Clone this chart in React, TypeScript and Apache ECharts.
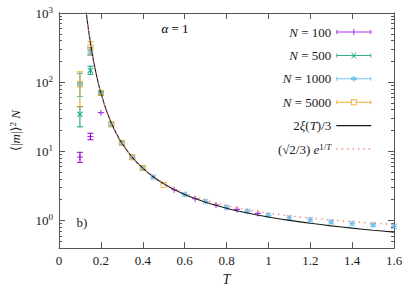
import React, { useEffect, useRef } from 'react';
import * as echarts from 'echarts';

const FONT = "'Liberation Serif', 'DejaVu Serif', serif";
const TXT = '#1a1a1a';
const AXIS = '#555555';

// x ticks
const X_MIN = 0;
const X_MAX = 1.6;
const X_STEP = 0.2;
// y ticks
const Y_MIN = 0.4;
const Y_MAX = 1000;
const Y_MAJOR = [1, 10, 100, 1000];
const Y_MINOR = [
  0.4, 0.5, 0.6, 0.7, 0.8, 0.9,
  2, 3, 4, 5, 6, 7, 8, 9,
  20, 30, 40, 50, 60, 70, 80, 90,
  200, 300, 400, 500, 600, 700, 800, 900,
];

// curves
const T_CURVE = [0.125, 0.13, 0.135, 0.14, 0.15, 0.16, 0.17, 0.18, 0.19, 0.2, 0.225, 0.25, 0.275, 0.3, 0.35, 0.4, 0.45, 0.5, 0.55, 0.6, 0.65, 0.7, 0.75, 0.8, 0.9, 1.0, 1.1, 1.2, 1.3, 1.4, 1.5, 1.6];
const XI_CURVE = [1405, 1033, 777, 596, 370.5, 244, 169, 121.9, 91.0, 70.0, 40.2, 25.7, 17.9, 13.2, 8.21, 5.74, 4.30, 3.41, 2.81, 2.39, 2.08, 1.845, 1.66, 1.51, 1.287, 1.127, 1.007, 0.915, 0.839, 0.777, 0.725, 0.681];
const EXP_CURVE = [1405, 1033, 777, 596, 370.5, 244, 169, 121.9, 91.0, 70.0, 40.2, 25.7, 17.9, 13.2, 8.21, 5.74, 4.35, 3.48, 2.90, 2.50, 2.195, 1.967, 1.788, 1.645, 1.432, 1.281, 1.170, 1.085, 1.017, 0.963, 0.918, 0.881];

// data points [T, value]
const N100 = [[0.1, 8.3], [0.15, 16.4], [0.2, 36.3], [0.55, 2.79], [0.65, 2.07], [0.75, 1.68], [0.85, 1.45], [0.95, 1.27]];
const N100_ERR = [[0.1, 6.95, 9.7], [0.15, 14.7, 18.3]];
const N500 = [[0.1, 34.3], [0.15, 148], [0.2, 70]];
const N500_ERR = [[0.1, 22.6, 44.3], [0.15, 130, 170]];
const N1000 = [[0.1, 95], [0.15, 278], [0.2, 70], [0.25, 24.7], [0.3, 13.2], [0.35, 8.2], [0.4, 5.74], [0.45, 4.24], [0.6, 2.39], [0.7, 1.89], [0.8, 1.55], [0.9, 1.36], [1.0, 1.19], [1.1, 1.10], [1.2, 1.03], [1.3, 0.957], [1.4, 0.906], [1.5, 0.867], [1.6, 0.82]];
const N1000_ERR = [[0.1, 62, 133], [0.15, 245, 315]];
const N5000 = [[0.1, 92.5], [0.15, 318], [0.2, 70], [0.25, 24.7], [0.3, 13.2], [0.35, 8.2], [0.4, 5.74], [0.5, 3.29]];
const N5000_ERR = [[0.1, 44.3, 140.8], [0.15, 250, 385]];

const C100 = '#9400d3';
const C500 = '#009e73';
const C1000 = '#56b4e9';
const C5000 = '#e69f00';
const CEXP = '#f3857c';

const SYM_PLUS = 'path://M-3,-0.55H3V0.55H-3Z M-0.55,-3H0.55V3H-0.55Z';
const SYM_CROSS = 'path://M-3,-2.2L-2.2,-3L3,2.2L2.2,3Z M-2.2,3L-3,2.2L2.2,-3L3,-2.2Z';
const SYM_STAR = 'path://M-3,-0.55H3V0.55H-3Z M-0.55,-3H0.55V3H-0.55Z M-3,-2.2L-2.2,-3L3,2.2L2.2,3Z M-2.2,3L-3,2.2L2.2,-3L3,-2.2Z';
const SYM_SQUARE = 'path://M-3,-3H3V3H-3Z M-2.1,-2.1V2.1H2.1V-2.1Z';

const BAR = 'M0,2.5H35V3.5H0Z M0,1H1V5H0Z M34,1H35V5H34Z';
const ICON_100 = 'path://' + BAR + ' M17,0H18V6H17Z M14.5,2.5H20.5V3.5H14.5Z';
const ICON_500 = 'path://' + BAR + ' M14.8,0L15.8,0L20.2,6L19.2,6Z M15.8,6L14.8,6L19.2,0L20.2,0Z';
const ICON_1000 = 'path://' + BAR + ' M14.5,1.5H20.5V4.5H14.5Z M17,0H18V6H17Z';
const ICON_5000 = 'path://M0,2.5H14.5V3.5H0Z M20.5,2.5H35V3.5H20.5Z M0,1H1V5H0Z M34,1H35V5H34Z M14.5,0H20.5V6H14.5Z M15.5,1V5H19.5V1Z';

function zip(xs: number[], ys: number[]) {
  return xs.map((x, i) => [x, ys[i]]);
}

function errSeries(name: string, data: number[][], color: string) {
  return {
    type: 'custom',
    name,
    xAxisIndex: 0,
    yAxisIndex: 0,
    data,
    encode: { x: 0, y: [1, 2] },
    renderItem: (params: any, api: any) => {
      const x = api.value(0);
      const p1 = api.coord([x, api.value(1)]);
      const p2 = api.coord([x, api.value(2)]);
      const w = 3;
      const st = { stroke: color, lineWidth: 1 };
      return {
        type: 'group',
        children: [
          { type: 'line', shape: { x1: p1[0], y1: p1[1], x2: p2[0], y2: p2[1] }, style: st },
          { type: 'line', shape: { x1: p1[0] - w, y1: p1[1], x2: p1[0] + w, y2: p1[1] }, style: st },
          { type: 'line', shape: { x1: p2[0] - w, y1: p2[1], x2: p2[0] + w, y2: p2[1] }, style: st },
        ],
      };
    },
  };
}

function scatter(name: string, data: number[][], color: string, symbol: string, size: number) {
  return {
    type: 'scatter',
    name,
    data,
    symbol,
    symbolSize: size,
    itemStyle: { color },
    xAxisIndex: 0,
    yAxisIndex: 0,
  };
}

const supRich = {
  i: { fontFamily: FONT, fontStyle: 'italic', fontSize: 13, color: TXT, lineHeight: 14 },
  r: { fontFamily: FONT, fontSize: 13, color: TXT, lineHeight: 14 },
  s: { fontFamily: FONT, fontSize: 9, color: TXT, verticalAlign: 'top', lineHeight: 9 },
  si: { fontFamily: FONT, fontSize: 9, fontStyle: 'italic', color: TXT, verticalAlign: 'top', lineHeight: 9 },
};

const LEGEND_LABELS: Record<string, string> = {
  N100: '{i|N}{r| = 100}',
  N500: '{i|N}{r| = 500}',
  N1000: '{i|N}{r| = 1000}',
  N5000: '{i|N}{r| = 5000}',
  xi: '{r|2}{i|ξ}{r|(}{i|T}{r|)/3}',
  exp: '{r|(√2/3) }{i|e}{s|1/}{si|T}',
};

function yLabel(v: number) {
  const e = Math.round(Math.log10(v));
  return '{b|10}{s|' + e + '}';
}

const axisLineStyle = { color: AXIS, width: 1 };

function yAxisDef(position: string, major: boolean, labels: boolean) {
  return {
    type: 'log',
    logBase: 10,
    min: Y_MIN,
    max: Y_MAX,
    position,
    axisLine: { show: true, onZero: false, lineStyle: axisLineStyle },
    axisTick: {
      show: true,
      inside: true,
      length: major ? 6 : 3,
      customValues: major ? Y_MAJOR : Y_MINOR,
      lineStyle: axisLineStyle,
    },
    axisLabel: labels
      ? {
          show: true,
          customValues: Y_MAJOR,
          margin: 6,
          formatter: yLabel,
          rich: {
            b: { fontFamily: FONT, fontSize: 13, color: TXT, lineHeight: 16 },
            s: { fontFamily: FONT, fontSize: 9, color: TXT, verticalAlign: 'top', lineHeight: 9 },
          },
        }
      : { show: false },
    splitLine: { show: false },
    minorTick: { show: false },
  };
}

export default function App() {
  const ref = useRef<HTMLDivElement>(null);
  useEffect(() => {
    const chart = echarts.init(ref.current!, null, { renderer: 'svg' });
    const y0: any = yAxisDef('left', true, true);
    y0.name = '{a|⟨|}{i|m}{a||⟩}{s|2}{a| }{i|N}';
    y0.nameLocation = 'middle';
    y0.nameRotate = 90;
    y0.nameGap = 36;
    y0.nameTextStyle = {
      rich: {
        a: { fontFamily: FONT, fontSize: 13, color: TXT, lineHeight: 15 },
        i: { fontFamily: FONT, fontStyle: 'italic', fontSize: 13, color: TXT, lineHeight: 15 },
        s: { fontFamily: FONT, fontSize: 9, color: TXT, verticalAlign: 'top', lineHeight: 9 },
      },
    };
    const hidden = { color: 'rgba(0,0,0,0)', borderColor: 'rgba(0,0,0,0)', borderWidth: 0 };
    const option: any = {
      animation: false,
      backgroundColor: '#ffffff',
      textStyle: { fontFamily: FONT },
      grid: { left: 54, right: 21, top: 13, bottom: 41, containLabel: false },
      xAxis: [
        {
          type: 'value',
          min: X_MIN,
          max: X_MAX,
          interval: X_STEP,
          position: 'bottom',
          axisLine: { show: true, onZero: false, lineStyle: axisLineStyle },
          axisTick: { show: true, inside: true, length: 6, lineStyle: axisLineStyle },
          axisLabel: {
            margin: 6,
            fontFamily: FONT,
            fontSize: 13,
            color: TXT,
            formatter: (v: number) => String(Number(v.toFixed(1))),
          },
          splitLine: { show: false },
          name: 'T',
          nameLocation: 'middle',
          nameGap: 23,
          nameTextStyle: { fontFamily: FONT, fontStyle: 'italic', fontSize: 14, color: TXT },
        },
        {
          type: 'value',
          min: X_MIN,
          max: X_MAX,
          interval: X_STEP,
          position: 'top',
          axisLine: { show: true, onZero: false, lineStyle: axisLineStyle },
          axisTick: { show: true, inside: true, length: 6, lineStyle: axisLineStyle },
          axisLabel: { show: false },
          splitLine: { show: false },
        },
      ],
      yAxis: [y0, yAxisDef('left', false, false), yAxisDef('right', true, false), yAxisDef('right', false, false)],
      legend: {
        orient: 'vertical',
        right: 38,
        top: 20,
        align: 'right',
        itemWidth: 35,
        itemHeight: 6,
        itemGap: 9.4,
        selectedMode: false,
        formatter: (name: string) => LEGEND_LABELS[name],
        textStyle: { fontFamily: FONT, fontSize: 13, color: TXT, lineHeight: 14, rich: supRich },
        data: [
          { name: 'N100', icon: ICON_100, itemStyle: { color: C100 } },
          { name: 'N500', icon: ICON_500, itemStyle: { color: C500 } },
          { name: 'N1000', icon: ICON_1000, itemStyle: { color: C1000 } },
          { name: 'N5000', icon: ICON_5000, itemStyle: { color: C5000 } },
          { name: 'xi', itemStyle: hidden, lineStyle: { width: 1.1, color: '#1a1a1a' } },
          { name: 'exp', itemStyle: hidden, lineStyle: { width: 1.4, color: CEXP, type: [1.4, 4] } },
        ],
      },
      graphic: [
        {
          type: 'text',
          x: 175,
          y: 28,
          style: {
            text: '{i|α}{r| = 1}',
            align: 'center',
            verticalAlign: 'middle',
            rich: supRich,
          },
        },
        {
          type: 'text',
          x: 82,
          y: 222,
          style: {
            text: 'b)',
            align: 'center',
            verticalAlign: 'middle',
            fontFamily: FONT,
            fontSize: 13,
            fill: TXT,
          },
        },
      ],
      series: [
        scatter('N100', N100, C100, SYM_PLUS, 6),
        errSeries('N100', N100_ERR, C100),
        scatter('N500', N500, C500, SYM_CROSS, 6),
        errSeries('N500', N500_ERR, C500),
        scatter('N1000', N1000, C1000, SYM_STAR, 6),
        errSeries('N1000', N1000_ERR, C1000),
        scatter('N5000', N5000, C5000, SYM_SQUARE, 6),
        errSeries('N5000', N5000_ERR, C5000),
        {
          type: 'line',
          name: 'xi',
          data: zip(T_CURVE, XI_CURVE),
          symbol: 'none',
          smooth: 0.3,
          lineStyle: { color: '#1a1a1a', width: 1.1 },
          itemStyle: { color: '#1a1a1a' },
          xAxisIndex: 0,
          yAxisIndex: 0,
          clip: true,
        },
        {
          type: 'line',
          name: 'exp',
          data: zip(T_CURVE, EXP_CURVE),
          symbol: 'none',
          smooth: 0.3,
          lineStyle: { color: CEXP, width: 1.4, type: [1.4, 4] },
          itemStyle: { color: CEXP },
          xAxisIndex: 0,
          yAxisIndex: 0,
          clip: true,
        },
      ],
    };
    chart.setOption(option);
    return () => chart.dispose();
  }, []);
  return <div ref={ref} style={{ position: 'absolute', left: 0, top: 0, width: 415, height: 291 }} />;
}
